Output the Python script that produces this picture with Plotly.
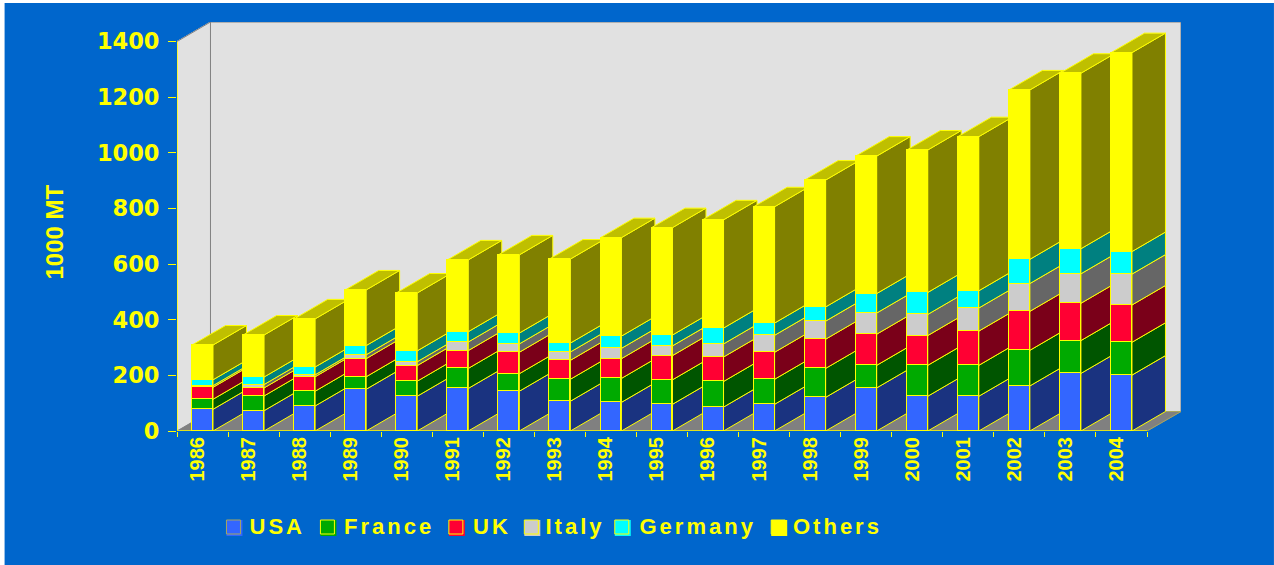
import plotly.graph_objects as go

YEARS = [1986, 1987, 1988, 1989, 1990, 1991, 1992, 1993, 1994, 1995,
         1996, 1997, 1998, 1999, 2000, 2001, 2002, 2003, 2004]
USA = [78, 73, 90, 150, 125, 153, 143, 107, 103, 96, 86, 96, 121, 155, 125, 125, 162, 207, 201]
FRANCE = [36, 53, 53, 45, 54, 72, 63, 79, 86, 88, 92, 90, 104, 81, 111, 111, 128, 118, 118]
UK = [43, 29, 52, 65, 56, 64, 77, 68, 71, 87, 88, 97, 105, 112, 107, 123, 140, 134, 134]
ITALY = [6, 12, 7, 14, 14, 31, 30, 30, 37, 35, 47, 61, 65, 76, 76, 83, 100, 106, 111]
GERMANY = [21, 27, 28, 33, 39, 37, 39, 32, 44, 39, 57, 44, 51, 70, 79, 62, 87, 90, 81]
OTHERS = [125, 151, 173, 200, 208, 258, 281, 302, 354, 386, 389, 418, 456, 494, 512, 554, 609, 631, 715]
SERIES_NAMES = ["USA", "France", "UK", "Italy", "Germany", "Others"]
SERIES_VALUES = [USA, FRANCE, UK, ITALY, GERMANY, OTHERS]
YTICKS = [0, 200, 400, 600, 800, 1000, 1200, 1400]

# styles
FRONT = ["#3366FF", "#00AA00", "#FF0033", "#CCCCCC", "#00FFFF", "#FFFF00"]
SIDE = ["#1A3380", "#005500", "#7A0019", "#666666", "#008080", "#808000"]
TOP = "#BFBF00"
YEL = "#FFFF00"
BLUE = "#0066CC"
WALL = "#E1E1E1"
GREY = "#808080"

# geometry (px)
W, H = 1274, 565
PL, PR, PT, PB = 176.5, 1181.0, 22.0, 431.0
PX_PER_CAT = 51.08
PX_PER_VAL = (431 - 41.5) / 1400
BAR_W = 0.41
DX = 33.5 / PX_PER_CAT
DY = 19.5 / PX_PER_VAL
XMIN = -0.5
XMAX = XMIN + (PR - PL) / PX_PER_CAT
YMAX = (PB - PT) / PX_PER_VAL
LAST = len(YEARS) - 0.5

xs = list(range(len(YEARS)))
fig = go.Figure()

# cumulative stack levels
levels = [[0] * len(YEARS)]
for vals in SERIES_VALUES:
    levels.append([a + b for a, b in zip(levels[-1], vals)])

# side faces
for s, name in enumerate(SERIES_NAMES):
    px, py = [], []
    for i in xs:
        r = i + BAR_W / 2
        lo, hi = levels[s][i], levels[s + 1][i]
        px += [r, r + DX, r + DX, r, r, None]
        py += [lo, lo + DY, hi + DY, hi, lo, None]
    fig.add_trace(go.Scatter(x=px, y=py, mode="lines", fill="toself", fillcolor=SIDE[s],
                             line=dict(color=YEL, width=1), cliponaxis=False,
                             hoverinfo="skip", showlegend=False, zorder=1))

# top faces
px, py = [], []
for i in xs:
    l, r = i - BAR_W / 2, i + BAR_W / 2
    hi = levels[-1][i]
    px += [l, r, r + DX, l + DX, l, None]
    py += [hi, hi, hi + DY, hi + DY, hi, None]
fig.add_trace(go.Scatter(x=px, y=py, mode="lines", fill="toself", fillcolor=TOP,
                         line=dict(color=YEL, width=1), cliponaxis=False,
                         hoverinfo="skip", showlegend=False, zorder=2))

# front faces
for s, name in enumerate(SERIES_NAMES):
    fig.add_trace(go.Bar(x=xs, y=SERIES_VALUES[s], name=name, width=BAR_W,
                         marker=dict(color=FRONT[s], line=dict(color=YEL, width=1.2)),
                         cliponaxis=False, showlegend=False, zorder=3))

# axis lines stop at the last tick / category
fig.add_trace(go.Scatter(x=[XMIN, XMIN, None, XMIN, LAST], y=[1400, 0, None, 0, 0], mode="lines",
                         line=dict(color=YEL, width=1.5), cliponaxis=False,
                         hoverinfo="skip", showlegend=False, zorder=4))

shapes = []
def poly(pts, fill, line=None, lw=1, layer="below"):
    path = "M" + "L".join(f"{x},{y}" for x, y in pts) + "Z"
    shapes.append(dict(type="path", path=path, xref="x", yref="y", fillcolor=fill, layer=layer,
                       line=dict(color=line or fill, width=lw)))
def seg(x0, y0, x1, y1, color, lw=1.3, layer="above"):
    shapes.append(dict(type="line", x0=x0, y0=y0, x1=x1, y1=y1, xref="x", yref="y", layer=layer,
                       line=dict(color=color, width=lw)))

# walls and floor
poly([(XMIN, 0), (XMIN, 1400), (XMIN + DX, 1400 + DY), (XMIN + DX, DY)], WALL)
poly([(XMIN + DX, DY), (XMIN + DX, YMAX), (XMAX, YMAX), (XMAX, DY)], WALL)
poly([(XMIN, 0), (XMIN + DX, DY), (XMAX, DY), (LAST, 0)], GREY)
seg(XMIN, 1400, XMIN + DX, YMAX, GREY, 1, "below")
seg(XMIN + DX, DY, XMIN + DX, YMAX, GREY, 1, "below")
seg(XMIN + DX, YMAX, XMAX, YMAX, GREY, 1, "below")
seg(XMAX, YMAX, XMAX, DY, GREY, 1, "below")
seg(XMIN + DX, DY, XMAX, DY, "#A6A660", 1, "below")
seg(XMAX, DY, LAST, 0, "#A6A660", 1, "below")

# page background and custom legend, placed in pixels
def to_paper_x(x): return (x - PL) / (PR - PL)
def to_paper_y(y): return (PB - y) / (PB - PT)
shapes.insert(0, dict(type="rect", xref="paper", yref="paper", layer="below",
                      x0=to_paper_x(4), x1=to_paper_x(W), y0=to_paper_y(H), y1=to_paper_y(3),
                      fillcolor=BLUE, line=dict(width=0)))
SWATCH_X = [226, 320, 448.5, 524, 614.5, 771]
LABEL_MID = [276, 387, 490, 573.5, 696, 835.5]
LEG_Y = 519
annotations = []
for s, name in enumerate(SERIES_NAMES):
    sx = SWATCH_X[s]
    shapes.append(dict(type="rect", xref="paper", yref="paper", x0=to_paper_x(sx), x1=to_paper_x(sx + 16),
                       y0=to_paper_y(LEG_Y + 17), y1=to_paper_y(LEG_Y + 1), fillcolor=FRONT[s], line=dict(width=0)))
    shapes.append(dict(type="rect", xref="paper", yref="paper", x0=to_paper_x(sx), x1=to_paper_x(sx + 14),
                       y0=to_paper_y(LEG_Y + 15), y1=to_paper_y(LEG_Y + 1), fillcolor="rgba(0,0,0,0)",
                       line=dict(color=YEL if s != 0 else "#A6A660", width=1)))
    annotations.append(dict(text=name, xref="paper", yref="paper", x=to_paper_x(LABEL_MID[s] + 1.5), y=to_paper_y(526.5),
                            xanchor="center", yanchor="middle", showarrow=False, borderpad=0,
                            font=dict(family="Liberation Sans", size=22, color=YEL, weight=700)))
annotations.append(dict(text="1000 MT", xref="paper", yref="paper", x=to_paper_x(53), y=to_paper_y(232),
                        xanchor="center", yanchor="middle", textangle=-90, showarrow=False,
                        font=dict(family="Liberation Sans", size=24, color=YEL, weight=700)))

fig.update_layout(
    width=W, height=H, autosize=False,
    paper_bgcolor="white", plot_bgcolor="rgba(0,0,0,0)",
    margin=dict(l=PL, r=W - PR, t=PT, b=H - PB, pad=0, autoexpand=False),
    barmode="stack", bargap=0, showlegend=False,
    shapes=shapes, annotations=annotations,
    xaxis=dict(range=[XMIN, XMAX], showgrid=False, zeroline=False, showline=False,
               tickmode="array", tickvals=[i - 0.1 for i in xs], ticktext=[str(y) for y in YEARS],
               ticks="", tickangle=-90, ticklabelstandoff=1,
               tickfont=dict(family="Liberation Sans", size=20, color=YEL, weight=700),
               minor=dict(tickmode="array", tickvals=[i - 0.5 for i in range(len(YEARS) + 1)],
                          ticks="outside", ticklen=5, tickwidth=1, tickcolor=YEL, showgrid=False)),
    yaxis=dict(range=[0, YMAX], showgrid=False, zeroline=False, showline=False,
               tickmode="array", tickvals=YTICKS, ticks="outside", ticklen=8, tickwidth=1, tickcolor=YEL,
               ticklabelstandoff=4,
               tickfont=dict(family="DejaVu Sans", size=22.5, color=YEL, weight=700)),
)

spacing = """
document.body.style.margin = '0';
document.querySelectorAll('.annotation-text').forEach(function (t) {
  if (t.textContent !== '1000 MT') { t.style.letterSpacing = '3px'; }
});
"""
fig.write_html("out.html", post_script=spacing, config=dict(displayModeBar=False))
